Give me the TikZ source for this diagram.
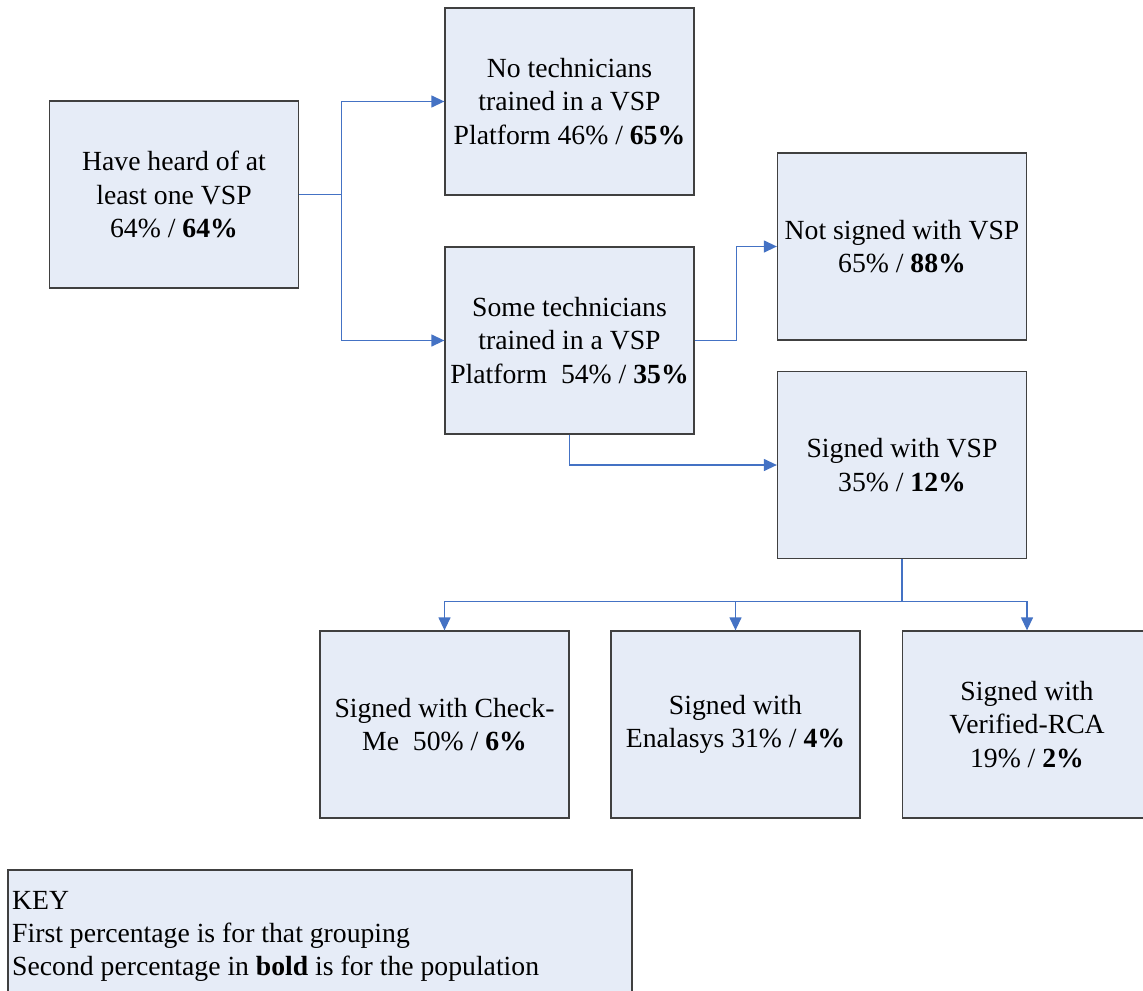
\documentclass[tikz,border=0pt]{standalone}
\usepackage{fontspec}
\setmainfont{Liberation Serif}
\usetikzlibrary{arrows.meta}
\definecolor{boxfill}{RGB}{230,236,247}
\definecolor{boxline}{RGB}{64,64,64}
\definecolor{connblue}{RGB}{68,114,196}
\tikzset{
  flowbox/.style={draw=boxline, fill=boxfill, line width=1.3bp, minimum width=249bp, minimum height=187bp, align=center, inner sep=2bp, font=\fontsize{27.8}{33.4}\selectfont},
  conn/.style={draw=connblue, line width=1.3bp, -{Triangle[length=13bp,width=12bp]}}
}
\begin{document}
\begin{tikzpicture}[x=1bp,y=-1bp]
\useasboundingbox (0,0) rectangle (1143,991);
\clip (0,0) rectangle (1143,991);
\fill[white] (0,0) rectangle (1143,991);
\node[flowbox] (A) at (174,194.5) {Have heard of at\\least one VSP\\64\% / \textbf{64\%}};
\node[flowbox] (B) at (569.5,101.5) {No technicians\\trained in a VSP\\Platform 46\% / \textbf{65\%}};
\node[flowbox] (C) at (569.5,340.5) {Some technicians\\trained in a VSP\\Platform\ \ 54\% / \textbf{35\%}};
\node[flowbox] (D) at (902,246.5) {Not signed with VSP\\65\% / \textbf{88\%}};
\node[flowbox] (E) at (902,465) {Signed with VSP\\35\% / \textbf{12\%}};
\node[flowbox] (F) at (444.5,724.5) {Signed with Check-\\Me\ \ 50\% / \textbf{6\%}};
\node[flowbox] (G) at (735.5,724.5) {Signed with\\Enalasys 31\% / \textbf{4\%}};
\node[flowbox] (H) at (1027,724.5) {Signed with\\Verified-RCA\\19\% / \textbf{2\%}};
\draw[draw=boxline, fill=boxfill, line width=1.3bp] (8,870) rectangle (632,1010);
\node[anchor=north west, align=left, inner sep=0pt, font=\fontsize{27.8}{33.4}\selectfont] (K) at (12,891) {KEY\\First percentage is for that grouping\\Second percentage in \textbf{bold} is for the population};
\draw[conn] (A.east) -- ++(42,0) |- (B.west);
\draw[conn] (A.east) -- ++(42,0) |- (C.west);
\draw[conn] (C.east) -- ++(42,0) |- (D.west);
\draw[conn] (C.south) |- (E.west);
\draw[conn] (E.south) -- ++(0,42) -| (F.north);
\draw[conn] (E.south) -- ++(0,42) -| (G.north);
\draw[conn] (E.south) -- ++(0,42) -| (H.north);
\end{tikzpicture}
\end{document}
